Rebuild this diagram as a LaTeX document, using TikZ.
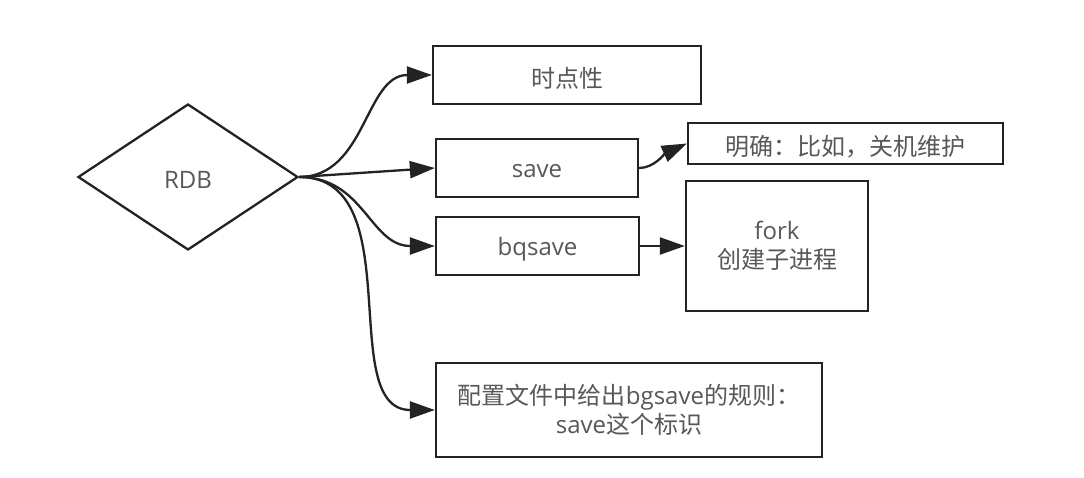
\documentclass[tikz,border=0pt]{standalone}
\usepackage{fontspec}
\setmainfont{Open Sans}
\newfontfamily\cjk{Noto Sans CJK SC}
\usetikzlibrary{arrows.meta,shapes.geometric}
\definecolor{linec}{RGB}{35,35,35}
\definecolor{textc}{RGB}{88,88,88}
\newcommand\dn[1]{\raisebox{-3pt}[\height][\depth]{#1}}
\begin{document}
\begin{tikzpicture}[x=1pt,y=-1pt,
  box/.style={draw=linec, line width=2.3pt, inner sep=0pt, text=textc,
    font=\fontsize{24}{29}\selectfont, align=center},
  conn/.style={draw=linec, line width=2.3pt, -{Triangle[length=25pt,width=17pt]}},
]
\useasboundingbox[fill=white] (0,0) rectangle (1084,478);
\node[box, diamond, minimum width=220pt, minimum height=146pt] (rdb) at (188,177) {\dn{RDB}};
\node[box, minimum width=268pt, minimum height=58pt] (t1) at (567,75) {\dn{\cjk 时点性}};
\node[box, minimum width=202pt, minimum height=58pt] (save) at (537,168) {\dn{save}};
\node[box, minimum width=315pt, minimum height=41pt] (m) at (845.5,143.5) {\dn{\cjk 明确：比如，关机维护}};
\node[box, minimum width=203pt, minimum height=58pt] (bg) at (537.5,246) {\dn{bqsave}};
\node[box, minimum width=182pt, minimum height=130pt] (fork) at (777,246) {fork\\{\cjk 创建子进程}};
\node[box, minimum width=386pt, minimum height=94pt] (cfg) at (629,410) {{\cjk 配置文件中给出}bgsave{\cjk 的规则：}\\save{\cjk 这个标识}};
\draw[conn] (rdb.east) .. controls +(67,0) and +(-67,0) .. (t1.west);
\draw[conn] (rdb.east) -- (save.west);
\draw[conn] (rdb.east) .. controls +(65,0) and +(-65,0) .. (bg.west);
\draw[conn] (rdb.east) .. controls +(112,0) and +(-100,0) .. (cfg.west);
\draw[conn] (save.east) .. controls +(15,0) and +(-22,10) .. (m.west);
\draw[conn] (bg.east) -- (fork.west);
\end{tikzpicture}
\end{document}
